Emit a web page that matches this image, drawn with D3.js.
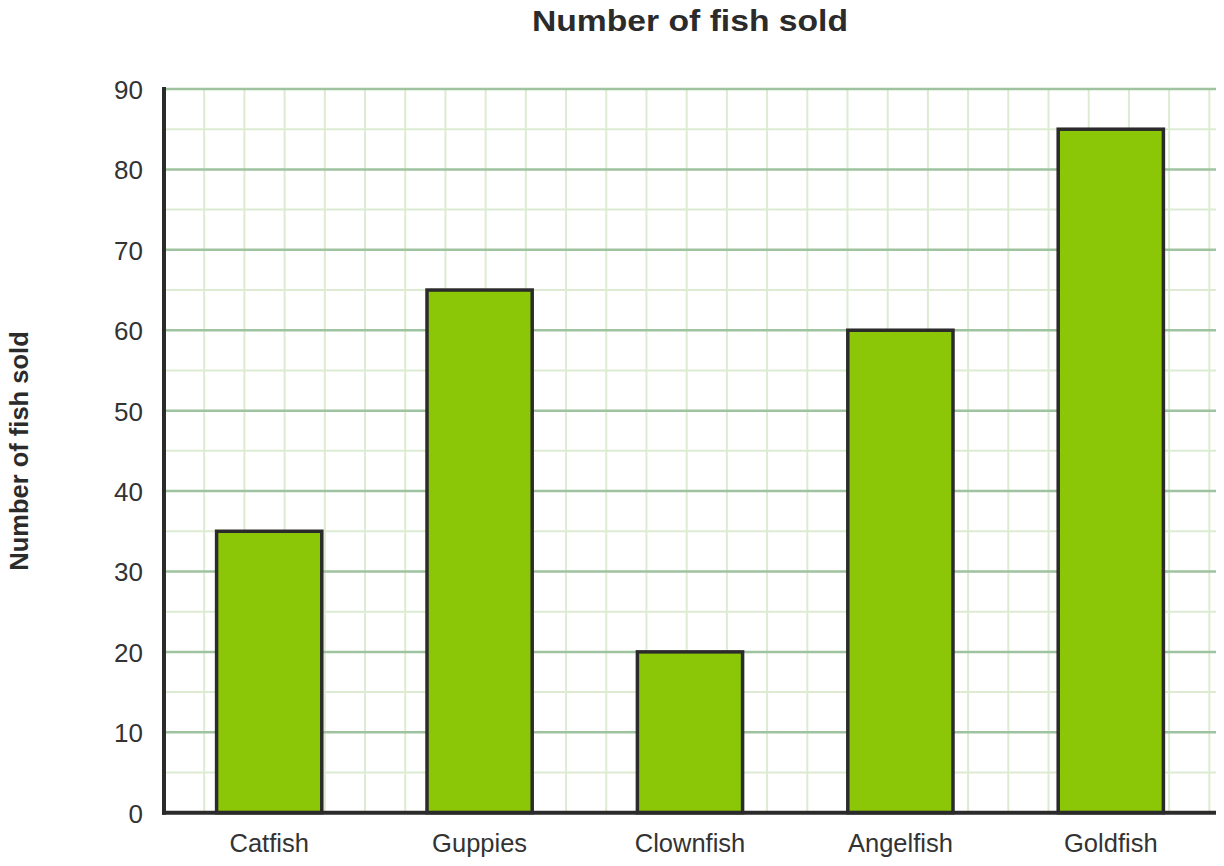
<!DOCTYPE html>
<html>
<head>
<meta charset="utf-8">
<script src="https://cdn.jsdelivr.net/npm/d3@7"></script>
<style>
  body { margin: 0; background: #fff; }
  text { font-family: "Liberation Sans", Arial, sans-serif; }
</style>
</head>
<body>
<svg id="svg"></svg>
<script>
const svg = d3.select("#svg")

// data
const categories = ["Catfish", "Guppies", "Clownfish", "Angelfish", "Goldfish"]
const fishSold = [35, 65, 20, 60, 85]
const yTicks = [0, 10, 20, 30, 40, 50, 60, 70, 80, 90]
const minorTicks = [5, 15, 25, 35, 45, 55, 65, 75, 85]

svg.attr("width", 1224)
    .attr("height", 866)

const plotLeft = 164, plotRight = 1216, plotTop = 89, plotBottom = 812.7

const y = d3.scaleLinear()
    .domain([0, 90])
    .range([plotBottom, plotTop])

const x = d3.scaleBand()
    .domain(categories)
    .range([plotLeft, plotRight])
    .paddingInner(0.5)
    .paddingOuter(0.25)

// grid: vertical minor lines, same spacing as a half step of y
const cell = y(0) - y(5)
const vLines = d3.range(plotLeft + cell, plotRight, cell)

const grid = svg.append("g")
grid.selectAll(".v")
    .data(vLines)
    .join("line")
    .attr("x1", d => d).attr("x2", d => d)
    .attr("y1", plotTop).attr("y2", plotBottom)
    .attr("stroke", "#dcebd2")
    .attr("stroke-width", 2)

grid.selectAll(".minor")
    .data(minorTicks)
    .join("line")
    .attr("x1", plotLeft).attr("x2", plotRight)
    .attr("y1", d => y(d)).attr("y2", d => y(d))
    .attr("stroke", "#dcebd2")
    .attr("stroke-width", 2)

grid.selectAll(".major")
    .data(yTicks.filter(d => d > 0))
    .join("line")
    .attr("x1", plotLeft).attr("x2", plotRight)
    .attr("y1", d => y(d)).attr("y2", d => y(d))
    .attr("stroke", "#9fc29f")
    .attr("stroke-width", 2.5)

// bars
svg.append("g")
    .selectAll("rect")
    .data(fishSold)
    .join("rect")
    .attr("x", (d, i) => x(categories[i]))
    .attr("y", d => y(d))
    .attr("width", x.bandwidth())
    .attr("height", d => y(0) - y(d))
    .attr("fill", "#8bc707")
    .attr("stroke", "#2b2b2b")
    .attr("stroke-width", 3.5)

// axes
const yAxis = svg.append("g")
    .attr("transform", `translate(${plotLeft - 21},0)`)
    .call(d3.axisLeft(y).tickValues(yTicks).tickSize(0).tickPadding(0))
yAxis.select(".domain").remove()
yAxis.selectAll("text")
    .attr("font-size", 26)
    .attr("fill", "#333")
    .attr("dy", "0.36em")
    .attr("font-family", "Liberation Sans, Arial, sans-serif")

const xAxis = svg.append("g")
    .attr("transform", `translate(0,${plotBottom})`)
    .call(d3.axisBottom(x).tickSize(0).tickPadding(0))
xAxis.select(".domain").remove()
xAxis.selectAll("text")
    .attr("font-size", 25.5)
    .attr("fill", "#333")
    .attr("dy", 0)
    .attr("y", 39.5)
    .attr("font-family", "Liberation Sans, Arial, sans-serif")

svg.append("line")
    .attr("x1", plotLeft).attr("x2", plotLeft)
    .attr("y1", plotTop - 2).attr("y2", plotBottom + 2)
    .attr("stroke", "#2b2b2b")
    .attr("stroke-width", 4)

svg.append("line")
    .attr("x1", plotLeft - 2).attr("x2", plotRight)
    .attr("y1", plotBottom).attr("y2", plotBottom)
    .attr("stroke", "#2b2b2b")
    .attr("stroke-width", 4)

// titles
svg.append("text")
    .attr("x", 690)
    .attr("y", 31)
    .attr("text-anchor", "middle")
    .attr("font-size", 29.5)
    .attr("font-weight", "bold")
    .attr("fill", "#2b2b2b")
    .attr("textLength", 316)
    .attr("lengthAdjust", "spacingAndGlyphs")
    .text("Number of fish sold")

svg.append("text")
    .attr("transform", "translate(28,451) rotate(-90)")
    .attr("text-anchor", "middle")
    .attr("font-size", 25.5)
    .attr("font-weight", "bold")
    .attr("fill", "#2b2b2b")
    .text("Number of fish sold")
</script>
</body>
</html>
